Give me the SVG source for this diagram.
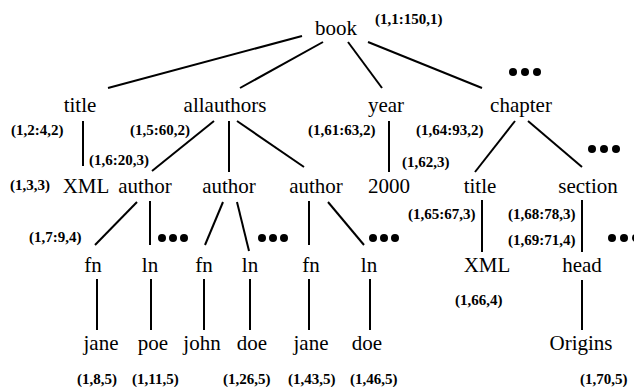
<svg xmlns="http://www.w3.org/2000/svg" width="634" height="387" viewBox="0 0 634 387">
<style>
.n{font-family:"Liberation Serif","Times New Roman",serif;font-size:21px;fill:#000;text-anchor:middle}
.a{font-family:"Liberation Serif","Times New Roman",serif;font-size:15px;font-weight:bold;fill:#000}
.c line{stroke:#000;stroke-width:2}
.d circle{fill:#000}
</style>
<rect width="634" height="387" fill="#fff"/>
<g class="c" id="connectors">
<line x1="302" y1="36" x2="108" y2="88"/>
<line x1="323" y1="42" x2="240" y2="88"/>
<line x1="348" y1="42" x2="382" y2="88"/>
<line x1="368" y1="42" x2="482" y2="88"/>
<line x1="83" y1="121" x2="83" y2="166"/>
<line x1="214" y1="121" x2="152" y2="171"/>
<line x1="229" y1="121" x2="229" y2="172"/>
<line x1="237" y1="121" x2="304" y2="167"/>
<line x1="389" y1="121" x2="389" y2="172"/>
<line x1="515" y1="121" x2="475" y2="172"/>
<line x1="528" y1="121" x2="582" y2="167"/>
<line x1="137" y1="202" x2="95" y2="245"/>
<line x1="150" y1="201" x2="150" y2="245"/>
<line x1="223" y1="202" x2="205" y2="245"/>
<line x1="237" y1="202" x2="249" y2="251"/>
<line x1="309" y1="201" x2="309" y2="245"/>
<line x1="328" y1="202" x2="364" y2="245"/>
<line x1="482" y1="200" x2="482" y2="252"/>
<line x1="582" y1="200" x2="582" y2="252"/>
<line x1="97" y1="279" x2="97" y2="330"/>
<line x1="151" y1="279" x2="151" y2="330"/>
<line x1="204" y1="279" x2="204" y2="330"/>
<line x1="250" y1="279" x2="250" y2="330"/>
<line x1="309" y1="279" x2="309" y2="330"/>
<line x1="370" y1="279" x2="370" y2="330"/>
<line x1="582" y1="280" x2="582" y2="330"/>
</g>
<g class="d" id="ellipses">
<circle cx="513" cy="72" r="4"/><circle cx="525" cy="72" r="4"/><circle cx="537" cy="72" r="4"/>
<circle cx="592" cy="149" r="4"/><circle cx="604" cy="149" r="4"/><circle cx="616" cy="149" r="4"/>
<circle cx="162" cy="238" r="4"/><circle cx="173" cy="238" r="4"/><circle cx="184" cy="238" r="4"/>
<circle cx="262" cy="238" r="4"/><circle cx="273" cy="238" r="4"/><circle cx="284" cy="238" r="4"/>
<circle cx="373" cy="238" r="4"/><circle cx="384" cy="238" r="4"/><circle cx="395" cy="238" r="4"/>
<circle cx="612" cy="238" r="4"/><circle cx="624" cy="238" r="4"/><circle cx="636" cy="238" r="4"/>
</g>
<g id="book"><text class="n" x="336" y="35">book</text><text class="a" x="375" y="24">(1,1:150,1)</text></g>
<g id="title"><text class="n" x="80" y="112">title</text><text class="a" x="11" y="135">(1,2:4,2)</text></g>
<g id="allauthors"><text class="n" x="225" y="112">allauthors</text><text class="a" x="130" y="135">(1,5:60,2)</text></g>
<g id="year"><text class="n" x="386" y="112">year</text><text class="a" x="308" y="135">(1,61:63,2)</text></g>
<g id="chapter"><text class="n" x="521" y="112">chapter</text><text class="a" x="416" y="135">(1,64:93,2)</text></g>
<g id="xml1"><text class="n" x="86" y="193">XML</text><text class="a" x="10" y="190">(1,3,3)</text></g>
<g id="author1"><text class="n" x="145" y="193">author</text><text class="a" x="89" y="165">(1,6:20,3)</text></g>
<g id="author2"><text class="n" x="229" y="193">author</text></g>
<g id="author3"><text class="n" x="316" y="193">author</text></g>
<g id="y2000"><text class="n" x="389" y="193">2000</text><text class="a" x="402" y="167">(1,62,3)</text></g>
<g id="title2"><text class="n" x="480" y="193">title</text><text class="a" x="408" y="219">(1,65:67,3)</text></g>
<g id="section"><text class="n" x="588" y="193">section</text><text class="a" x="508" y="219">(1,68:78,3)</text></g>
<g id="fn1"><text class="n" x="93" y="272">fn</text><text class="a" x="29" y="242">(1,7:9,4)</text></g>
<g id="ln1"><text class="n" x="150" y="272">ln</text></g>
<g id="fn2"><text class="n" x="204" y="272">fn</text></g>
<g id="ln2"><text class="n" x="250" y="272">ln</text></g>
<g id="fn3"><text class="n" x="311" y="272">fn</text></g>
<g id="ln3"><text class="n" x="369" y="272">ln</text></g>
<g id="xml2"><text class="n" x="487" y="272">XML</text><text class="a" x="455" y="305">(1,66,4)</text></g>
<g id="head"><text class="n" x="582" y="272">head</text><text class="a" x="508" y="245">(1,69:71,4)</text></g>
<g id="jane1"><text class="n" x="101" y="350">jane</text><text class="a" x="77" y="384">(1,8,5)</text></g>
<g id="poe"><text class="n" x="153" y="350">poe</text><text class="a" x="132" y="384">(1,11,5)</text></g>
<g id="john"><text class="n" x="202" y="350">john</text></g>
<g id="doe1"><text class="n" x="252" y="350">doe</text><text class="a" x="223" y="384">(1,26,5)</text></g>
<g id="jane2"><text class="n" x="311" y="350">jane</text><text class="a" x="288" y="384">(1,43,5)</text></g>
<g id="doe2"><text class="n" x="367" y="350">doe</text><text class="a" x="350" y="384">(1,46,5)</text></g>
<g id="origins"><text class="n" x="581" y="350">Origins</text><text class="a" x="580" y="384">(1,70,5)</text></g>
</svg>
